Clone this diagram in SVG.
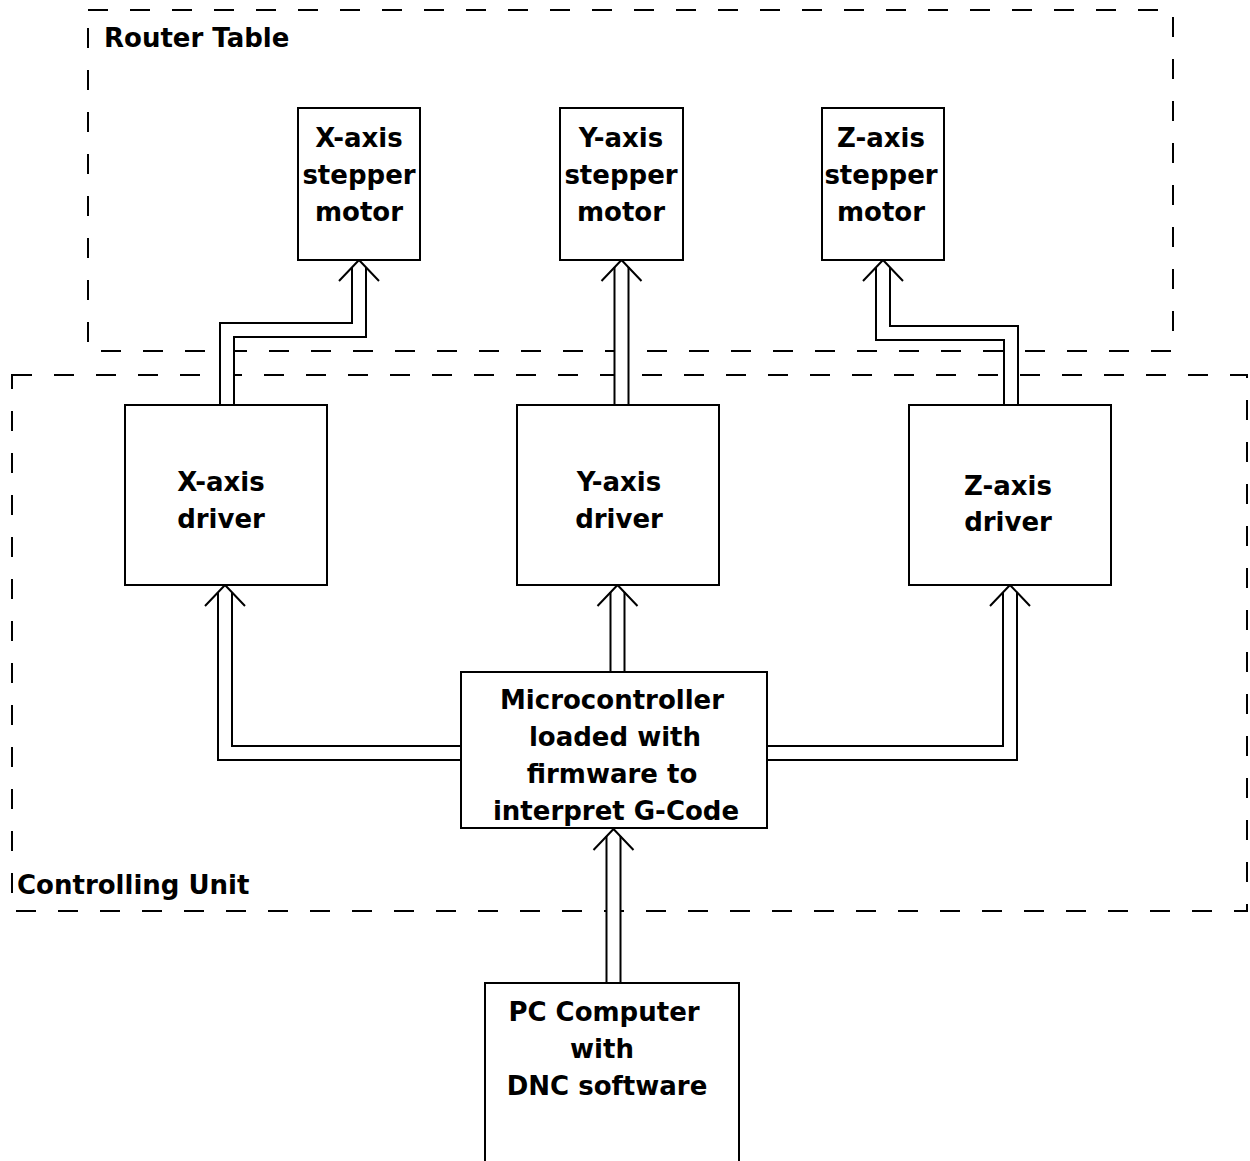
<svg xmlns="http://www.w3.org/2000/svg" width="1250" height="1161" viewBox="0 0 1250 1161">
<style>
.frame{fill:none;stroke:#000;stroke-width:2;stroke-dasharray:20 22}
.box{fill:#fff;stroke:#000;stroke-width:2}
.t{font-family:"DejaVu Sans","Liberation Sans",sans-serif;font-weight:bold;font-size:26px;fill:#000}
.c{text-anchor:middle}
.outer{fill:none;stroke:#000;stroke-width:16;stroke-linejoin:miter}
.inner{fill:none;stroke:#fff;stroke-width:12;stroke-linejoin:miter}
.head{fill:none;stroke:#000;stroke-width:2}
</style>
<rect width="1250" height="1161" fill="#fff"/>
<g id="router-table">
<rect class="frame" x="88" y="10" width="1085" height="341"/>
<text class="t" x="104" y="47">Router Table</text>
</g>
<g id="controlling-unit">
<rect class="frame" x="12" y="375" width="1235" height="536"/>
<text class="t" x="17" y="894">Controlling Unit</text>
</g>
<g id="connectors">
<path class="outer" d="M227 405V330H359V267"/>
<path class="inner" d="M227 405V330H359V267"/>
<path class="outer" d="M621.5 405V267"/>
<path class="inner" d="M621.5 405V267"/>
<path class="outer" d="M1011 405V333H883V267"/>
<path class="inner" d="M1011 405V333H883V267"/>
<path class="outer" d="M461 753H225V592"/>
<path class="inner" d="M461 753H225V592"/>
<path class="outer" d="M617.5 672V592"/>
<path class="inner" d="M617.5 672V592"/>
<path class="outer" d="M767 753H1010V592"/>
<path class="inner" d="M767 753H1010V592"/>
<path class="outer" d="M613.5 983V836"/>
<path class="inner" d="M613.5 983V836"/>
<polyline class="head" points="339,281 359,260 379,281"/>
<polyline class="head" points="601.5,281 621.5,260 641.5,281"/>
<polyline class="head" points="863,281 883,260 903,281"/>
<polyline class="head" points="205,606 225,585 245,606"/>
<polyline class="head" points="597.5,606 617.5,585 637.5,606"/>
<polyline class="head" points="990,606 1010,585 1030,606"/>
<polyline class="head" points="593.5,850 613.5,829 633.5,850"/>
</g>
<g id="x-motor">
<rect class="box" x="298" y="108" width="122" height="152"/>
<text class="t c" x="359" y="147">X-axis</text>
<text class="t c" x="359" y="184">stepper</text>
<text class="t c" x="359" y="221">motor</text>
</g>
<g id="y-motor">
<rect class="box" x="560" y="108" width="123" height="152"/>
<text class="t c" x="621" y="147">Y-axis</text>
<text class="t c" x="621" y="184">stepper</text>
<text class="t c" x="621" y="221">motor</text>
</g>
<g id="z-motor">
<rect class="box" x="822" y="108" width="122" height="152"/>
<text class="t c" x="881" y="147">Z-axis</text>
<text class="t c" x="881" y="184">stepper</text>
<text class="t c" x="881" y="221">motor</text>
</g>
<g id="x-driver">
<rect class="box" x="125" y="405" width="202" height="180"/>
<text class="t c" x="221" y="491">X-axis</text>
<text class="t c" x="221" y="528">driver</text>
</g>
<g id="y-driver">
<rect class="box" x="517" y="405" width="202" height="180"/>
<text class="t c" x="619" y="491">Y-axis</text>
<text class="t c" x="619" y="528">driver</text>
</g>
<g id="z-driver">
<rect class="box" x="909" y="405" width="202" height="180"/>
<text class="t c" x="1008" y="495">Z-axis</text>
<text class="t c" x="1008" y="531">driver</text>
</g>
<g id="microcontroller">
<rect class="box" x="461" y="672" width="306" height="156"/>
<text class="t c" x="612" y="709">Microcontroller</text>
<text class="t c" x="615" y="746">loaded with</text>
<text class="t c" x="612" y="783">firmware to</text>
<text class="t c" x="616" y="820">interpret G-Code</text>
</g>
<g id="pc">
<rect class="box" x="485" y="983" width="254" height="190"/>
<text class="t c" x="604" y="1021">PC Computer</text>
<text class="t c" x="602" y="1058">with</text>
<text class="t c" x="607" y="1095">DNC software</text>
</g>
</svg>
